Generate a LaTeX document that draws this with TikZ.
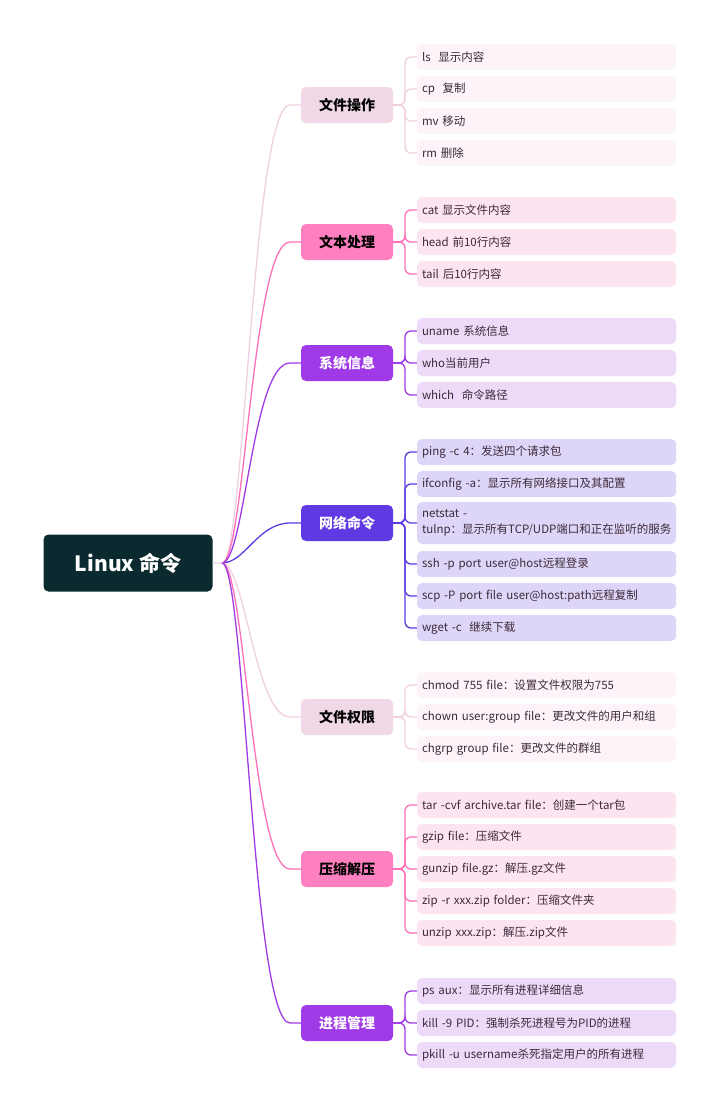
\documentclass[tikz,border=0pt]{standalone}
\usepackage{fontspec}
\setmainfont{Noto Sans CJK SC}
\begin{document}
\begin{tikzpicture}[x=1pt,y=-1pt,
  root/.style={fill=rootc,rounded corners=5pt,minimum width=169pt,minimum height=57pt,text=white,font=\fontsize{21}{24}\selectfont\bfseries},
  br/.style={rounded corners=5pt,minimum width=92pt,minimum height=36pt,font=\fontsize{14}{17}\selectfont\bfseries},
  leaf/.style={rounded corners=5pt,text width=249pt,inner xsep=5pt,minimum height=26pt,align=left,text=leaft,font=\fontsize{11.5}{16}\selectfont},
  con/.style={line width=1.3pt},
  lc/.style={line width=1.3pt,rounded corners=6pt}]
\definecolor{rootc}{HTML}{0B2A30}
\definecolor{leaft}{HTML}{3E2A3A}
\definecolor{pA}{HTML}{F0D8E6}\definecolor{pAl}{HTML}{F0D0E0}\definecolor{lA}{HTML}{FCF4F9}
\definecolor{pB}{HTML}{FF80C0}\definecolor{pBl}{HTML}{FF70B8}\definecolor{lB}{HTML}{FDE4F1}
\definecolor{pC}{HTML}{A03AE6}\definecolor{pCl}{HTML}{A03AE6}\definecolor{lC}{HTML}{EDDAF8}
\definecolor{pD}{HTML}{5F3AE2}\definecolor{pDl}{HTML}{5F3AE2}\definecolor{lD}{HTML}{DDD6F8}
\useasboundingbox[fill=white] (0,0) rectangle (720,1112);
\node[root] (r) at (128,563) {Linux 命令};
\coordinate (o) at (222,563);
% branches
\node[br,fill=pA] (b1) at (347,105) {文件操作};
\node[br,fill=pB] (b2) at (347,242) {文本处理};
\node[br,fill=pC,text=white] (b3) at (347,363) {系统信息};
\node[br,fill=pD,text=white] (b4) at (347,523) {网络命令};
\node[br,fill=pA] (b5) at (347,717) {文件权限};
\node[br,fill=pB] (b6) at (347,869) {压缩解压};
\node[br,fill=pC,text=white] (b7) at (347,1023) {进程管理};
\draw[con,pAl] (r.east) -- (o) .. controls (245,563) and (252,105) .. (290,105) -- (b1.west);
\draw[con,pBl] (o) .. controls (245,563) and (252,242) .. (290,242) -- (b2.west);
\draw[con,pCl] (o) .. controls (245,563) and (252,363) .. (290,363) -- (b3.west);
\draw[con,pDl] (o) .. controls (245,563) and (258,523) .. (290,523) -- (b4.west);
\draw[con,pAl] (o) .. controls (245,563) and (255,717) .. (290,717) -- (b5.west);
\draw[con,pBl] (o) .. controls (245,563) and (252,869) .. (290,869) -- (b6.west);
\draw[con,pCl] (o) .. controls (245,563) and (252,1023) .. (290,1023) -- (b7.west);
% leaves
\node[leaf,fill=lA] (a1) at (546.5,57) {ls\ \ 显示内容};
\node[leaf,fill=lA] (a2) at (546.5,89) {cp\ \ 复制};
\node[leaf,fill=lA] (a3) at (546.5,121) {mv 移动};
\node[leaf,fill=lA] (a4) at (546.5,153) {rm 删除};
\foreach \n in {a1,a2,a3,a4} \draw[lc,pAl] (b1.east) -- (405,105) |- (\n.west);
\node[leaf,fill=lB] (c1) at (546.5,210) {cat 显示文件内容};
\node[leaf,fill=lB] (c2) at (546.5,242) {head 前10行内容};
\node[leaf,fill=lB] (c3) at (546.5,274) {tail 后10行内容};
\foreach \n in {c1,c2,c3} \draw[lc,pBl] (b2.east) -- (405,242) |- (\n.west);
\node[leaf,fill=lC] (d1) at (546.5,331) {uname 系统信息};
\node[leaf,fill=lC] (d2) at (546.5,363) {who当前用户};
\node[leaf,fill=lC] (d3) at (546.5,395) {which\ \ 命令路径};
\foreach \n in {d1,d2,d3} \draw[lc,pCl] (b3.east) -- (405,363) |- (\n.west);
\node[leaf,fill=lD] (e1) at (546.5,452) {ping -c 4：发送四个请求包};
\node[leaf,fill=lD] (e2) at (546.5,484) {ifconfig -a：显示所有网络接口及其配置};
\node[leaf,fill=lD,minimum height=42pt] (e3) at (546.5,523) {netstat -tulnp：显示所有TCP/UDP端口和正在监听的服务};
\node[leaf,fill=lD] (e4) at (546.5,564) {ssh -p port user@host远程登录};
\node[leaf,fill=lD] (e5) at (546.5,596) {scp -P port file user@host:path远程复制};
\node[leaf,fill=lD] (e6) at (546.5,628) {wget -c\ \ 继续下载};
\foreach \n in {e1,e2,e3,e4,e5,e6} \draw[lc,pDl] (b4.east) -- (405,523) |- (\n.west);
\node[leaf,fill=lA] (f1) at (546.5,685) {chmod 755 file：设置文件权限为755};
\node[leaf,fill=lA] (f2) at (546.5,717) {chown user:group file：更改文件的用户和组};
\node[leaf,fill=lA] (f3) at (546.5,749) {chgrp group file：更改文件的群组};
\foreach \n in {f1,f2,f3} \draw[lc,pAl] (b5.east) -- (405,717) |- (\n.west);
\node[leaf,fill=lB] (g1) at (546.5,805) {tar -cvf archive.tar file：创建一个tar包};
\node[leaf,fill=lB] (g2) at (546.5,837) {gzip file：压缩文件};
\node[leaf,fill=lB] (g3) at (546.5,869) {gunzip file.gz：解压.gz文件};
\node[leaf,fill=lB] (g4) at (546.5,901) {zip -r xxx.zip folder：压缩文件夹};
\node[leaf,fill=lB] (g5) at (546.5,933) {unzip xxx.zip：解压.zip文件};
\foreach \n in {g1,g2,g3,g4,g5} \draw[lc,pBl] (b6.east) -- (405,869) |- (\n.west);
\node[leaf,fill=lC] (h1) at (546.5,991) {ps aux：显示所有进程详细信息};
\node[leaf,fill=lC] (h2) at (546.5,1023) {kill -9 PID：强制杀死进程号为PID的进程};
\node[leaf,fill=lC] (h3) at (546.5,1055) {pkill -u username杀死指定用户的所有进程};
\foreach \n in {h1,h2,h3} \draw[lc,pCl] (b7.east) -- (405,1023) |- (\n.west);
\end{tikzpicture}
\end{document}
